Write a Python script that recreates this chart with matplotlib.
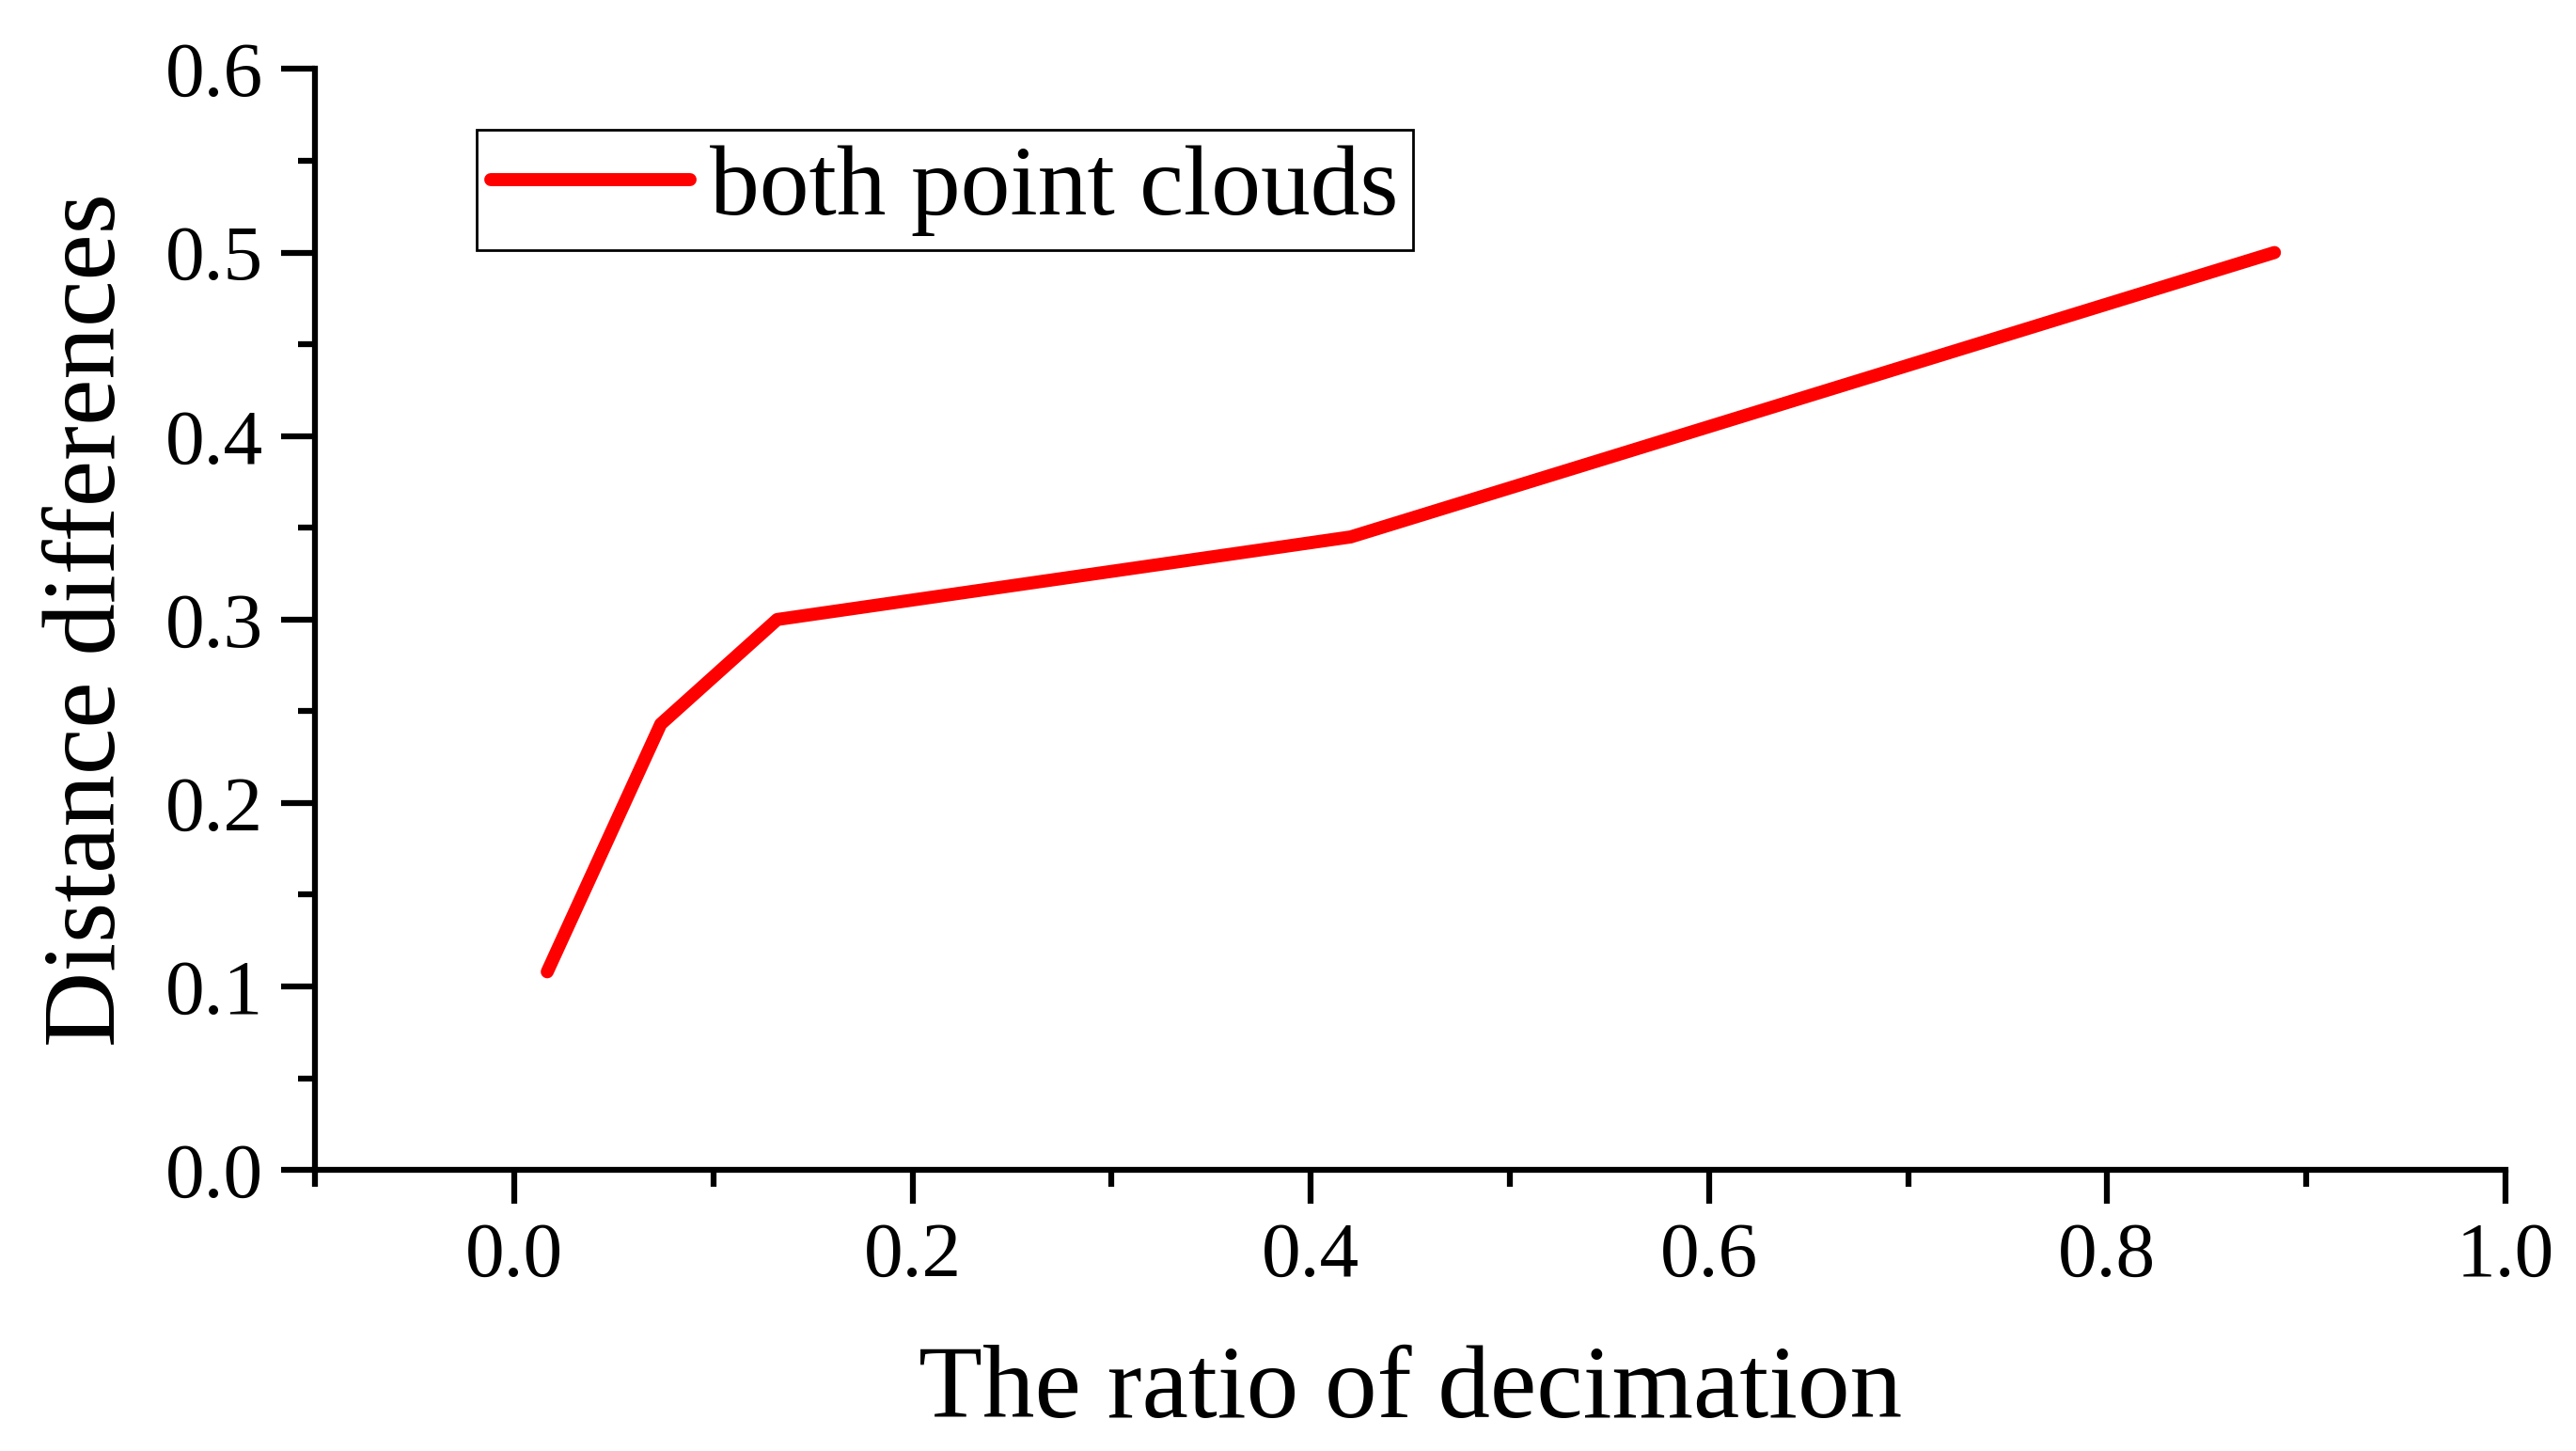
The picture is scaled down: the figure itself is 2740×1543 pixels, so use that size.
import matplotlib.pyplot as plt
from matplotlib.ticker import MultipleLocator

ratio = [0.0165, 0.0735, 0.132, 0.42, 0.884]
distance = [0.108, 0.243, 0.300, 0.345, 0.500]

plt.rcParams['font.family'] = ['Liberation Serif', 'DejaVu Serif']

fig = plt.figure(figsize=(27.4, 15.43), dpi=100)
ax = fig.add_axes([0.1224, 0.1937, 0.8502, 0.7587])
ax.plot(ratio, distance, color='red', lw=10, solid_capstyle='round', label='both point clouds')

ax.set_xlim(-0.1, 1.0)
ax.set_ylim(0.0, 0.6)
ax.xaxis.set_major_locator(MultipleLocator(0.2))
ax.xaxis.set_minor_locator(MultipleLocator(0.1))
ax.yaxis.set_major_locator(MultipleLocator(0.1))
ax.yaxis.set_minor_locator(MultipleLocator(0.05))
ax.xaxis.set_major_formatter(plt.FuncFormatter(lambda v, p: f"{v:.1f}"))
ax.yaxis.set_major_formatter(plt.FuncFormatter(lambda v, p: f"{v:.1f}"))

for s in ['top', 'right']:
    ax.spines[s].set_visible(False)
for s in ['left', 'bottom']:
    ax.spines[s].set_linewidth(4.5)
ax.tick_params(which='major', direction='out', length=26, width=4.5, labelsize=60, pad=14)
ax.tick_params(which='minor', direction='out', length=13, width=4.5)

ax.set_xlabel('The ratio of decimation', fontsize=80, labelpad=40)
ax.set_ylabel('Distance differences', fontsize=80, labelpad=22)

leg = ax.legend(loc='upper left', bbox_to_anchor=(0.0735, 0.945), fontsize=76,
                fancybox=False, edgecolor='black', framealpha=1, borderaxespad=0,
                handlelength=2.0, borderpad=0.15, handletextpad=0.2)
leg.get_frame().set_linewidth(2)

fig.savefig('out.png', dpi=100)
